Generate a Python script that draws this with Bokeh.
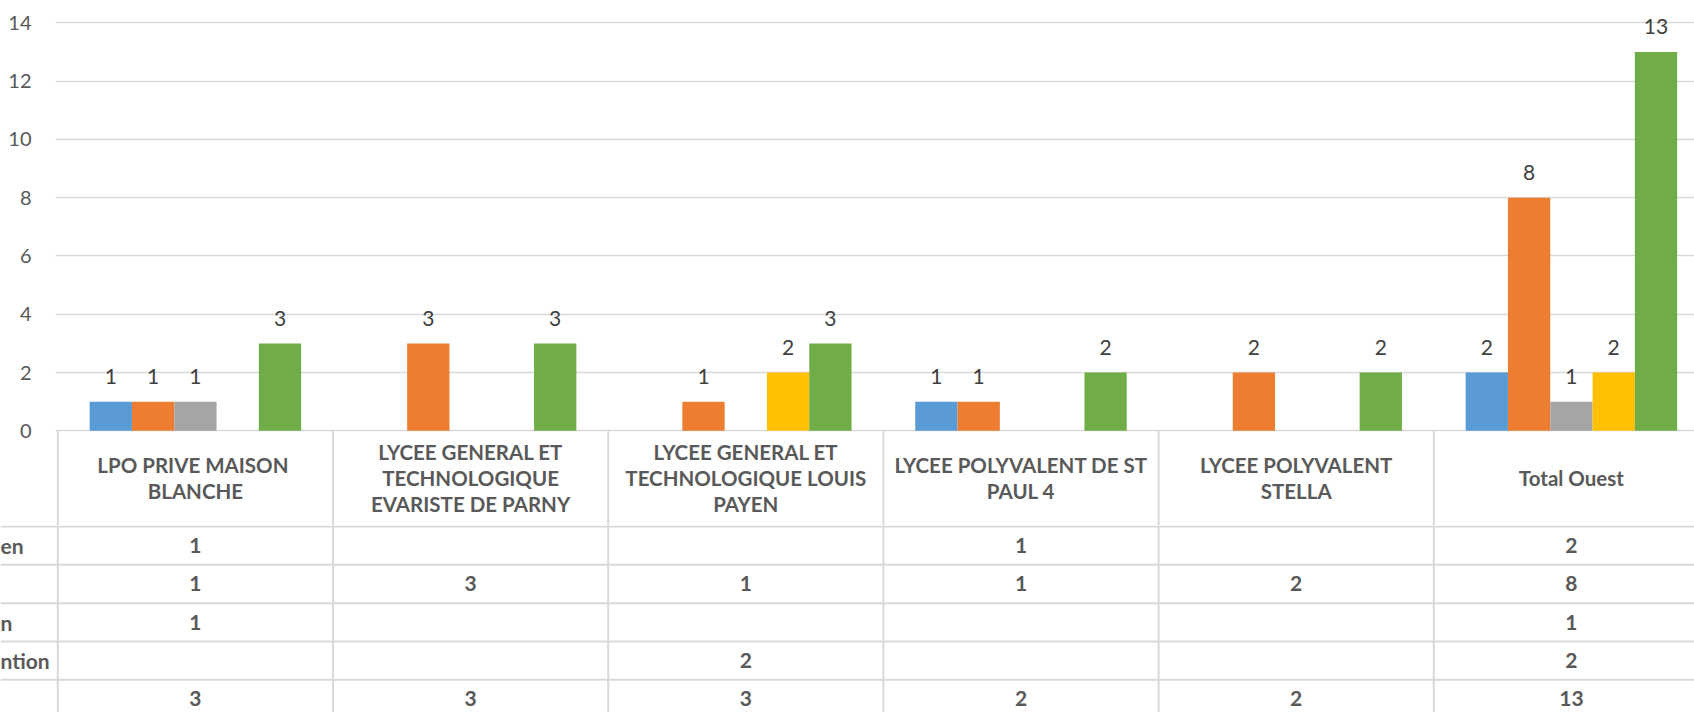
from bokeh.plotting import figure
from bokeh.models import ColumnDataSource, Range1d, FixedTicker
from bokeh.layouts import column
from bokeh.embed import file_html
from bokeh.resources import INLINE
from bokeh.core.properties import value

# ---------------- data ----------------
categories = [
    "LPO PRIVE  MAISON BLANCHE",
    "LYCEE GENERAL ET TECHNOLOGIQUE EVARISTE DE PARNY",
    "LYCEE GENERAL ET TECHNOLOGIQUE LOUIS PAYEN",
    "LYCEE POLYVALENT DE ST PAUL 4",
    "LYCEE POLYVALENT STELLA",
    "Total Ouest",
]
category_labels = [
    "LPO PRIVE  MAISON\nBLANCHE",
    "LYCEE GENERAL ET\nTECHNOLOGIQUE\nEVARISTE DE PARNY",
    "LYCEE GENERAL ET\nTECHNOLOGIQUE LOUIS\nPAYEN",
    "LYCEE POLYVALENT DE ST\nPAUL 4",
    "LYCEE POLYVALENT\nSTELLA",
    "Total Ouest",
]
# row labels of the data table, as far as they are visible (cropped at the left)
series_labels = ["en", "", "n", "ntion", ""]
series_colors = ["#5B9BD5", "#ED7D31", "#A5A5A5", "#FFC000", "#70AD47"]
series_1 = [1, 0, 0, 1, 0, 2]
series_2 = [1, 3, 1, 1, 2, 8]
series_3 = [1, 0, 0, 0, 0, 1]
series_4 = [0, 0, 2, 0, 0, 2]
series_5 = [3, 3, 3, 2, 2, 13]
series = [series_1, series_2, series_3, series_4, series_5]
y_ticks = [0, 2, 4, 6, 8, 10, 12, 14]

# ---------------- layout constants (pixels) ----------------
W = 1694
TOP_H = 525
BOT_H = 712 - TOP_H
LEFT = 55                    # figure left border of the chart
COL_X0 = 57.3                # page x of the first column edge
COL = 275.2                  # px per category
ZERO_Y = 430.3               # page y of value 0
PX_PER_UNIT = 29.14
HEADER_MID = 477.5
ROW_TOP = 526.0
ROW_H = 38.33
BAR_W = 0.1537
FONT = "Lato"
GRID = "#D9D9D9"
TXT = "#595959"

x_start_top = -(COL_X0 - LEFT) / COL
x_end = (W - COL_X0) / COL
y_start_top = -(TOP_H - ZERO_Y) / PX_PER_UNIT
y_end_top = ZERO_Y / PX_PER_UNIT

# ---------------- chart (with header row of the table) ----------------
p = figure(width=W, height=TOP_H, output_backend="svg", toolbar_location=None,
           x_range=Range1d(x_start_top, x_end), y_range=Range1d(y_start_top, y_end_top),
           x_axis_location=None,
           min_border_left=LEFT, min_border_right=0, min_border_top=0, min_border_bottom=0)
p.frame_align = False
p.outline_line_color = None
p.xgrid.grid_line_color = None
p.ygrid.ticker = FixedTicker(ticks=y_ticks)
p.ygrid.grid_line_color = GRID
p.ygrid.grid_line_width = 1.3
ax = p.yaxis[0]
ax.ticker = FixedTicker(ticks=y_ticks)
ax.axis_line_color = None
ax.major_tick_line_color = None
ax.minor_tick_line_color = None
ax.major_tick_out = 0
ax.major_tick_in = 0
ax.major_label_standoff = 24
ax.major_label_text_font = FONT
ax.major_label_text_font_size = "20px"
ax.major_label_text_color = TXT

for j, vals in enumerate(series):
    xs = [i + 0.5 + (j - 2) * BAR_W for i, v in enumerate(vals) if v]
    tops = [v for v in vals if v]
    src = ColumnDataSource(dict(x=xs, top=tops, label=[str(v) for v in tops]))
    p.vbar(x="x", top="top", bottom=0, width=BAR_W, source=src,
           fill_color=series_colors[j], line_color=None)
    p.text(x="x", y="top", text="label", source=src, text_align="center",
           text_baseline="middle", y_offset=-25, text_font=value(FONT),
           text_font_size="21px", text_color="#404040")

vx = list(range(len(categories) + 1))
p.segment(x0=vx, x1=vx, y0=0, y1=y_start_top, line_color=GRID, line_width=2)
p.text(x=[i + 0.5 for i in range(len(categories))],
       y=-(HEADER_MID - ZERO_Y) / PX_PER_UNIT,
       text=category_labels, text_align="center", text_baseline="middle",
       text_font=value(FONT), text_font_style="bold", text_font_size="20.5px",
       text_line_height=1.1, text_color=TXT)

# ---------------- data rows of the table ----------------
t = figure(width=W, height=BOT_H, output_backend="svg", toolbar_location=None,
           x_range=Range1d(-COL_X0 / COL, x_end), y_range=Range1d(BOT_H, 0),
           x_axis_location=None, y_axis_location=None,
           min_border_left=0, min_border_right=0, min_border_top=0, min_border_bottom=0)
t.frame_align = False
t.outline_line_color = None
t.grid.grid_line_color = None

row_borders = [ROW_TOP - TOP_H + k * ROW_H for k in range(len(series))]
row_centers = [b + ROW_H / 2 for b in row_borders]

t.segment(x0=-COL_X0 / COL, x1=x_end, y0=row_borders, y1=row_borders,
          line_color=GRID, line_width=2)
t.segment(x0=vx, x1=vx, y0=0, y1=BOT_H, line_color=GRID, line_width=2)

for r, vals in enumerate(series):
    xs = [i + 0.5 for i, v in enumerate(vals) if v]
    labs = [str(v) for v in vals if v]
    t.text(x=xs, y=row_centers[r], text=labs, text_align="center", text_baseline="middle",
           text_font=value(FONT), text_font_style="bold", text_font_size="21px",
           text_color=TXT)

t.text(x=-COL_X0 / COL, y=row_centers, text=series_labels, text_align="left",
       text_baseline="middle", text_font=value(FONT), text_font_style="bold",
       text_font_size="21px", text_color=TXT)

layout = column(p, t, spacing=0)
open("out.html", "w").write(file_html(layout, INLINE))
